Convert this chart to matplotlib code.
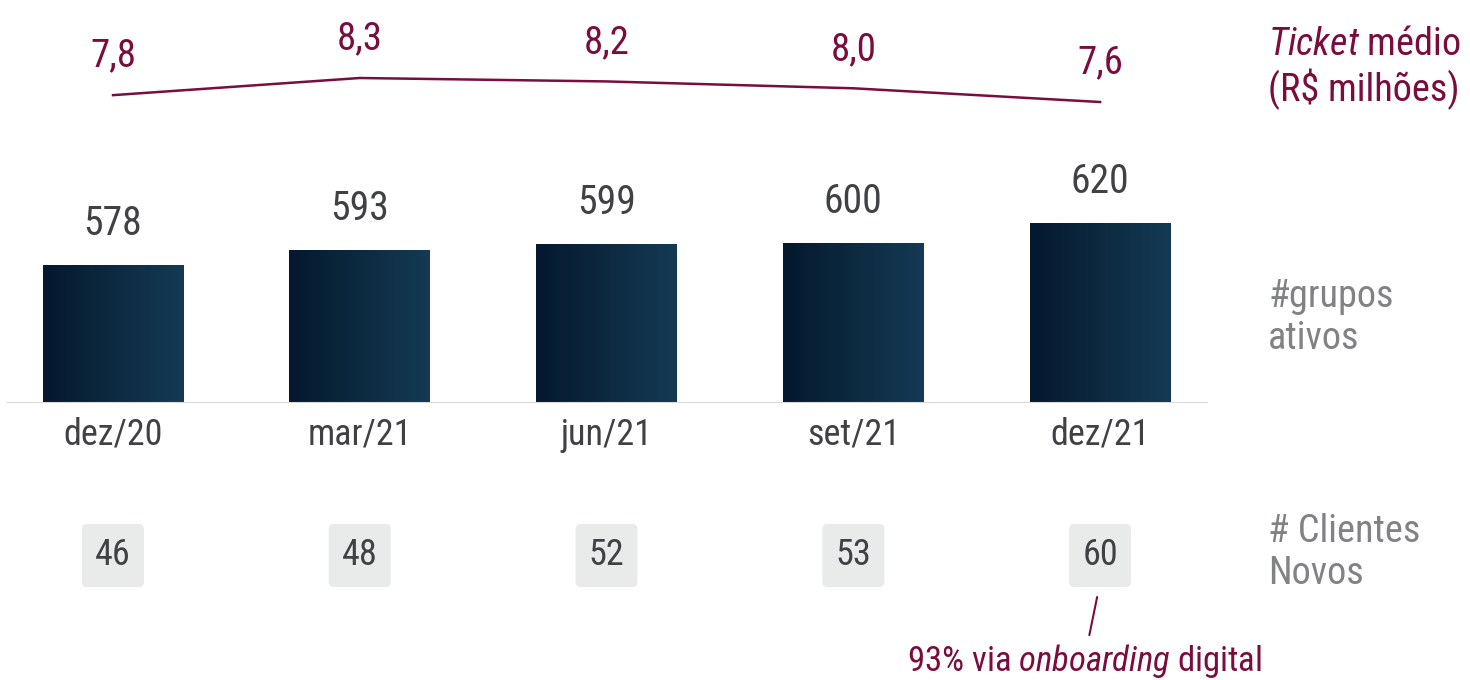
import matplotlib.pyplot as plt
import numpy as np
from matplotlib import font_manager
from matplotlib.colors import LinearSegmentedColormap
from matplotlib.patches import FancyBboxPatch

# dados do gráfico
periodos = ['dez/20', 'mar/21', 'jun/21', 'set/21', 'dez/21']
grupos_ativos = [578, 593, 599, 600, 620]
ticket_medio = [7.8, 8.3, 8.2, 8.0, 7.6]
clientes_novos = [46, 48, 52, 53, 60]
nota_onboarding = '93% via $\\it{onboarding}$ digital'

VINHO = '#7a0c3e'
CINZA = '#808285'
TEXTO = '#3f4144'
CAIXA = '#e9eaea'

nomes = {f.name for f in font_manager.fontManager.ttflist}
fonte = 'Roboto Condensed' if 'Roboto Condensed' in nomes else 'Roboto'
plt.rcParams['font.family'] = [fonte, 'DejaVu Sans']
plt.rcParams['mathtext.fontset'] = 'custom'
plt.rcParams['mathtext.rm'] = fonte
plt.rcParams['mathtext.it'] = fonte + ':italic'

x = np.arange(len(periodos))
xlim = (-0.458, 5.499)
base = 440  # valor na linha de base do eixo

fig = plt.figure(figsize=(14.7, 6.8), dpi=100)
ax_bar = fig.add_axes([0, 0.4074, 1, 0.3868])
ax_line = fig.add_axes([0, 0.7941, 1, 0.2059])
ax_box = fig.add_axes([0, 0, 1, 0.2941])

# barras com degradê
cmap = LinearSegmentedColormap.from_list('azul', ['#04182e', '#0d2a40', '#143a55'])
grad = np.linspace(0, 1, 256).reshape(1, -1)
bars = ax_bar.bar(x, grupos_ativos, width=0.571, color='none')
for b in bars:
    x0, w, h = b.get_x(), b.get_width(), b.get_height()
    im = ax_bar.imshow(grad, cmap=cmap, aspect='auto', extent=(x0, x0 + w, base, h), zorder=2)
    im.set_clip_path(b)
for i, v in enumerate(grupos_ativos):
    ax_bar.annotate(str(v), xy=(i, v), xytext=(0, 41), textcoords='offset pixels',
                    ha='center', va='center', fontsize=28.5, color=TEXTO)
    ax_bar.annotate(periodos[i], xy=(i, base), xytext=(0, -32), textcoords='offset pixels',
                    ha='center', va='center', fontsize=26, color=TEXTO)
ax_bar.axhline(base, xmin=0.0054, xmax=0.821, color='#d9d9d9', lw=1.5, zorder=3)
ax_bar.set_xlim(*xlim)
ax_bar.set_ylim(base, 703)
ax_bar.axis('off')

# linha do ticket médio
ax_line.plot(x, ticket_medio, color=VINHO, lw=1.8)
for i, v in enumerate(ticket_medio):
    ax_line.annotate(f'{v:.1f}'.replace('.', ','), xy=(i, v), xytext=(0, 39),
                     textcoords='offset pixels', ha='center', va='center',
                     fontsize=28, color=VINHO)
ax_line.set_xlim(*xlim)
ax_line.set_ylim(6.492, 10.574)
ax_line.axis('off')

# caixas de clientes novos
for i, v in enumerate(clientes_novos):
    ax_box.add_patch(FancyBboxPatch((i - 0.1255, 93), 0.251, 63,
                                    boxstyle='round,pad=0,rounding_size=0.02',
                                    mutation_aspect=246.75, fc=CAIXA, ec='none'))
    ax_box.text(i, 125, str(v), ha='center', va='center', fontsize=26, color=TEXTO)
ax_box.annotate(nota_onboarding, xy=(3.988, 83), xytext=(3.935, 19),
                ha='center', va='center', fontsize=25, color=VINHO,
                arrowprops=dict(arrowstyle='-', color=VINHO, lw=1.5, shrinkA=3, shrinkB=0))
ax_box.set_xlim(*xlim)
ax_box.set_ylim(0, 200)
ax_box.axis('off')

# rótulos à direita
fig.text(0.8626, 0.900, '$\\it{Ticket}$ médio\n(R$ milhões)', ha='left', va='center',
         fontsize=27.5, color=VINHO, linespacing=1.15)
fig.text(0.8626, 0.533, '#grupos\nativos', ha='left', va='center',
         fontsize=27.5, color=CINZA, linespacing=1.15)
fig.text(0.8626, 0.1875, '# Clientes\nNovos', ha='left', va='center',
         fontsize=27.5, color=CINZA, linespacing=1.15)

fig.savefig('out.png', dpi=100)
